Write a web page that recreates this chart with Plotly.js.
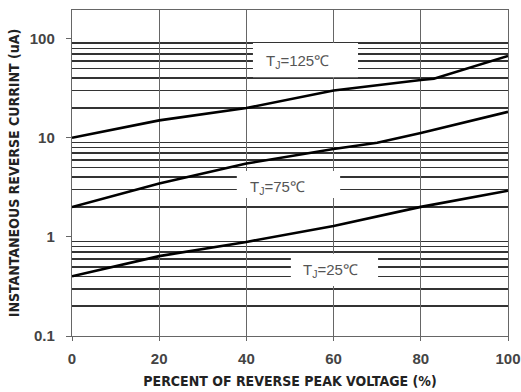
<!DOCTYPE html>
<html>
<head>
<meta charset="utf-8">
<script src="https://cdn.plot.ly/plotly-3.0.1.min.js"></script>
<style>html,body{margin:0;padding:0;background:#fff;}#chart{width:521px;height:392px;}</style>
</head>
<body>
<div id="chart"></div>
<script>
// Percent of reverse peak voltage (%) vs instantaneous reverse current (uA)
var voltage125 = [0, 20, 40, 60, 80, 83, 100];
var current125 = [10, 15, 20, 30, 38.3, 39.5, 67];
var voltage75 = [0, 20, 40, 60, 70, 80, 100];
var current75 = [2.0, 3.46, 5.5, 7.7, 8.9, 11.2, 18.3];
var voltage25 = [0, 20, 40, 60, 80, 100];
var current25 = [0.4, 0.64, 0.89, 1.29, 2.01, 2.92];

var seriesLabels = ['T<sub>J</sub>=125℃', 'T<sub>J</sub>=75℃', 'T<sub>J</sub>=25℃'];
var xTicks = [0, 20, 40, 60, 80, 100];
var yTicks = [0.1, 1, 10, 100];
var yTickText = ['0.1', '1', '10', '100'];
var yGridVals = [0.2, 0.3, 0.4, 0.5, 0.6, 0.7, 0.8, 0.9,
                 2, 3, 4, 5, 6, 7, 8, 9,
                 20, 30, 40, 50, 60, 70, 80, 90];

var lineStyle = {color: '#000', width: 2.6};
var traces = [
  {x: voltage125, y: current125, mode: 'lines', line: lineStyle, name: seriesLabels[0], hoverinfo: 'none'},
  {x: voltage75, y: current75, mode: 'lines', line: lineStyle, name: seriesLabels[1], hoverinfo: 'none'},
  {x: voltage25, y: current25, mode: 'lines', line: lineStyle, name: seriesLabels[2], hoverinfo: 'none'}
];

var titleFont = {family: '"Liberation Sans Narrow", "Arial Narrow", "DejaVu Sans Condensed", sans-serif', size: 14, color: '#222', weight: 'bold'};
var tickFont = {family: '"Liberation Sans", Arial, sans-serif', size: 15, color: '#444', weight: 'bold'};
var labelFont = {family: '"Liberation Sans", Arial, sans-serif', size: 15, color: '#555'};

function box(x0, x1, y0, y1) {
  return {type: 'rect', xref: 'x', yref: 'paper', x0: x0, x1: x1, y0: y0, y1: y1,
          fillcolor: '#fff', line: {width: 0}, layer: 'above'};
}
function label(x, y, text) {
  return {x: x, y: y, xref: 'x', yref: 'paper', xanchor: 'center', yanchor: 'middle',
          text: text, showarrow: false, font: labelFont};
}

var layout = {
  width: 521, height: 392,
  margin: {l: 72, r: 13, t: 10, b: 56},
  paper_bgcolor: '#fff', plot_bgcolor: '#fff',
  showlegend: false,
  xaxis: {
    range: [0, 100], tickvals: xTicks, ticktext: xTicks.map(String),
    showgrid: true, gridcolor: '#666', gridwidth: 1,
    showline: true, mirror: true, linecolor: '#666', linewidth: 1.2,
    ticks: 'outside', ticklen: 4, tickcolor: '#666', ticklabelstandoff: 5,
    zeroline: false, tickfont: tickFont,
    title: {text: 'PERCENT OF REVERSE PEAK VOLTAGE (%)', font: titleFont, standoff: 10}
  },
  yaxis: {
    type: 'log', range: [-1, 2.29], tickmode: 'array', tickvals: yTicks, ticktext: yTickText,
    showgrid: false,
    minor: {tickmode: 'array', tickvals: yGridVals, showgrid: true, gridcolor: '#333', gridwidth: 1.6, ticks: ''},
    showline: true, mirror: true, linecolor: '#666', linewidth: 1.2,
    ticks: 'outside', ticklen: 5, tickcolor: '#666', ticklabelstandoff: 8,
    zeroline: false, tickfont: tickFont,
    title: {text: 'INSTANTANEOUS REVERSE CURRINT (uA)', font: titleFont, standoff: 6}
  },
  shapes: [
    box(41.5, 65.6, 0.794, 0.899),
    box(37.8, 61.5, 0.423, 0.506),
    box(50.2, 70.2, 0.153, 0.252)
  ],
  annotations: [
    label(51.8, 0.843, seriesLabels[0]),
    label(47.1, 0.457, seriesLabels[1]),
    label(59.4, 0.202, seriesLabels[2])
  ]
};

Plotly.newPlot('chart', traces, layout, {staticPlot: true, displayModeBar: false});
</script>
</body>
</html>
